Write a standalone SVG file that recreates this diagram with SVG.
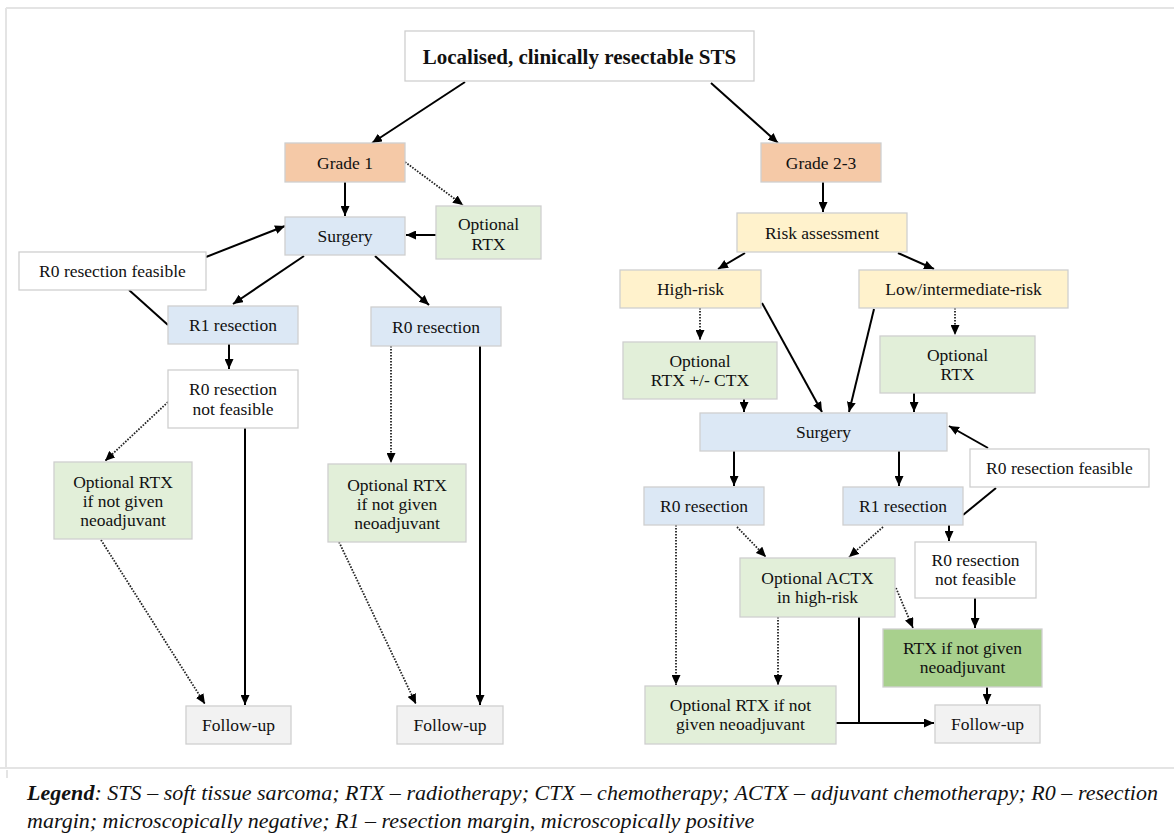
<svg xmlns="http://www.w3.org/2000/svg" width="1174" height="837" viewBox="0 0 1174 837">
  <style>
    .box { stroke: #cfcfcf; stroke-width: 1.3; }
    .white { fill: #ffffff; }
    .peach { fill: #f5c9a7; }
    .blue { fill: #dce8f5; }
    .green { fill: #e2efd9; }
    .dgreen { fill: #a8d08d; }
    .yellow { fill: #fff2cc; }
    .grey { fill: #f2f2f2; }
    text { font-family: "Liberation Serif", Tinos, "Times New Roman", "DejaVu Serif", serif; font-size: 17.5px; fill: #111; text-anchor: middle; }
    .title { font-size: 21px; font-weight: bold; }
    .legend { font-size: 22px; font-style: italic; text-anchor: start; }
    .solid { stroke: #000; stroke-width: 2; fill: none; }
    .dot { stroke: #222; stroke-width: 1.8; fill: none; stroke-dasharray: 1.6 1.4; }
    .frame { stroke: #e4e4e4; stroke-width: 2; fill: none; }
  </style>
  <defs>
    <marker id="arr" markerUnits="userSpaceOnUse" markerWidth="11" markerHeight="9" refX="10" refY="4.5" orient="auto">
      <path d="M0,0 L10,4.5 L0,9 z" fill="#000"/>
    </marker>
  </defs>

  <rect width="1174" height="837" fill="#ffffff"/>

  <!-- table frame -->
  <g id="frame">
    <path class="frame" d="M6,8 H1174 M6,8 V767 M0,768 H1174 M7,770 V778"/>
  </g>

  <!-- connectors -->
  <g id="connectors">
    <!-- left branch: grade 1 -->
    <line class="solid" x1="465" y1="82" x2="372" y2="143" marker-end="url(#arr)"/>
    <line class="solid" x1="345" y1="182" x2="345" y2="216" marker-end="url(#arr)"/>
    <line class="dot" x1="405" y1="162" x2="463" y2="205" marker-end="url(#arr)"/>
    <line class="solid" x1="436" y1="235" x2="406" y2="235" marker-end="url(#arr)"/>
    <line class="solid" x1="206" y1="257" x2="285" y2="226" marker-end="url(#arr)"/>
    <line class="solid" x1="304" y1="256" x2="233" y2="304" marker-end="url(#arr)"/>
    <line class="solid" x1="375" y1="256" x2="429" y2="305" marker-end="url(#arr)"/>
    <line class="solid" x1="129" y1="290" x2="168" y2="325"/>
    <line class="solid" x1="229" y1="344" x2="229" y2="369" marker-end="url(#arr)"/>
    <line class="dot" x1="168" y1="402" x2="105" y2="461" marker-end="url(#arr)"/>
    <line class="solid" x1="245" y1="428" x2="245" y2="705" marker-end="url(#arr)"/>
    <line class="dot" x1="391" y1="346" x2="391" y2="463" marker-end="url(#arr)"/>
    <line class="solid" x1="480" y1="346" x2="480" y2="705" marker-end="url(#arr)"/>
    <line class="dot" x1="101" y1="540" x2="205" y2="704" marker-end="url(#arr)"/>
    <line class="dot" x1="339" y1="542" x2="416" y2="704" marker-end="url(#arr)"/>

    <!-- right branch: grade 2-3 -->
    <line class="solid" x1="711" y1="83" x2="778" y2="143" marker-end="url(#arr)"/>
    <line class="solid" x1="823" y1="182" x2="823" y2="212" marker-end="url(#arr)"/>
    <line class="solid" x1="745" y1="253" x2="718" y2="269" marker-end="url(#arr)"/>
    <line class="solid" x1="898" y1="253" x2="934" y2="269" marker-end="url(#arr)"/>
    <line class="dot" x1="700" y1="308" x2="700" y2="340" marker-end="url(#arr)"/>
    <line class="solid" x1="762" y1="303" x2="822" y2="412" marker-end="url(#arr)"/>
    <line class="solid" x1="874" y1="309" x2="849" y2="412" marker-end="url(#arr)"/>
    <line class="dot" x1="955" y1="308" x2="955" y2="335" marker-end="url(#arr)"/>
    <line class="solid" x1="744" y1="399" x2="744" y2="412" marker-end="url(#arr)"/>
    <line class="solid" x1="914" y1="393" x2="914" y2="412" marker-end="url(#arr)"/>
    <line class="solid" x1="988" y1="448" x2="949" y2="426" marker-end="url(#arr)"/>
    <line class="solid" x1="734" y1="451" x2="734" y2="486" marker-end="url(#arr)"/>
    <line class="solid" x1="899" y1="451" x2="899" y2="486" marker-end="url(#arr)"/>
    <line class="solid" x1="996" y1="488" x2="963" y2="515"/>
    <line class="solid" x1="949" y1="525" x2="949" y2="541" marker-end="url(#arr)"/>
    <line class="dot" x1="737" y1="527" x2="766" y2="557" marker-end="url(#arr)"/>
    <line class="dot" x1="883" y1="527" x2="849" y2="557" marker-end="url(#arr)"/>
    <line class="dot" x1="676" y1="525" x2="676" y2="685" marker-end="url(#arr)"/>
    <line class="dot" x1="778" y1="617" x2="778" y2="685" marker-end="url(#arr)"/>
    <line class="dot" x1="896" y1="588" x2="913" y2="628" marker-end="url(#arr)"/>
    <line class="solid" x1="975" y1="598" x2="975" y2="628" marker-end="url(#arr)"/>
    <line class="solid" x1="987" y1="687" x2="987" y2="704" marker-end="url(#arr)"/>
    <line class="solid" x1="859" y1="617" x2="859" y2="723"/>
    <line class="solid" x1="836" y1="723" x2="934" y2="723" marker-end="url(#arr)"/>
  </g>

  <!-- nodes -->
  <g id="n-start"><rect class="box white" x="405" y="31" width="349" height="50"/><text class="title" x="579.5" y="64">Localised, clinically resectable STS</text></g>

  <g id="n-grade1"><rect class="box peach" x="285" y="143" width="120" height="39"/><text x="345" y="168.5">Grade 1</text></g>
  <g id="n-surgery-l"><rect class="box blue" x="285" y="217" width="120" height="38"/><text x="345" y="242">Surgery</text></g>
  <g id="n-optrtx-l"><rect class="box green" x="436" y="206" width="105" height="53"/><text x="488.5" y="230">Optional</text><text x="488.5" y="249.5">RTX</text></g>
  <g id="n-r0feas-l"><rect class="box white" x="19" y="252" width="187" height="38"/><text x="112.5" y="277">R0 resection feasible</text></g>
  <g id="n-r1-l"><rect class="box blue" x="168" y="306" width="130" height="38"/><text x="233" y="331">R1 resection</text></g>
  <g id="n-r0-l"><rect class="box blue" x="371" y="307" width="130" height="39"/><text x="436" y="332.5">R0 resection</text></g>
  <g id="n-r0notfeas-l"><rect class="box white" x="168" y="370" width="130" height="58"/><text x="233" y="395">R0 resection</text><text x="233" y="414.5">not feasible</text></g>
  <g id="n-optrtx-neo-1"><rect class="box green" x="54" y="462" width="138" height="77"/><text x="123" y="487.5">Optional RTX</text><text x="123" y="506.5">if not given</text><text x="123" y="525.5">neoadjuvant</text></g>
  <g id="n-optrtx-neo-2"><rect class="box green" x="328" y="464" width="138" height="78"/><text x="397" y="490.5">Optional RTX</text><text x="397" y="509.5">if not given</text><text x="397" y="528.5">neoadjuvant</text></g>
  <g id="n-followup-1"><rect class="box grey" x="186" y="706" width="105" height="38"/><text x="238.5" y="731">Follow-up</text></g>
  <g id="n-followup-2"><rect class="box grey" x="397" y="706" width="106" height="38"/><text x="450" y="731">Follow-up</text></g>

  <g id="n-grade23"><rect class="box peach" x="761" y="143" width="120" height="39"/><text x="821" y="168.5">Grade 2-3</text></g>
  <g id="n-risk"><rect class="box yellow" x="737" y="213" width="170" height="39"/><text x="822" y="239">Risk assessment</text></g>
  <g id="n-high"><rect class="box yellow" x="620" y="270" width="141" height="38"/><text x="690.5" y="295">High-risk</text></g>
  <g id="n-low"><rect class="box yellow" x="859" y="270" width="209" height="38"/><text x="963.5" y="295">Low/intermediate-risk</text></g>
  <g id="n-optrtxctx"><rect class="box green" x="623" y="342" width="154" height="57"/><text x="700" y="367">Optional</text><text x="700" y="386">RTX +/- CTX</text></g>
  <g id="n-optrtx-r"><rect class="box green" x="880" y="336" width="155" height="57"/><text x="957.5" y="361">Optional</text><text x="957.5" y="380">RTX</text></g>
  <g id="n-surgery-r"><rect class="box blue" x="700" y="413" width="247" height="38"/><text x="823.5" y="438">Surgery</text></g>
  <g id="n-r0feas-r"><rect class="box white" x="970" y="449" width="179" height="38"/><text x="1059.5" y="474">R0 resection feasible</text></g>
  <g id="n-r0-r"><rect class="box blue" x="644" y="487" width="120" height="38"/><text x="704" y="512">R0 resection</text></g>
  <g id="n-r1-r"><rect class="box blue" x="843" y="487" width="120" height="38"/><text x="903" y="512">R1 resection</text></g>
  <g id="n-r0notfeas-r"><rect class="box white" x="915" y="542" width="121" height="56"/><text x="975.5" y="566">R0 resection</text><text x="975.5" y="585">not feasible</text></g>
  <g id="n-actx"><rect class="box green" x="740" y="558" width="155" height="59"/><text x="817.5" y="584">Optional ACTX</text><text x="817.5" y="603">in high-risk</text></g>
  <g id="n-rtx-neo"><rect class="box dgreen" x="883" y="629" width="159" height="58"/><text x="962.5" y="654">RTX if not given</text><text x="962.5" y="673">neoadjuvant</text></g>
  <g id="n-optrtx-neo-3"><rect class="box green" x="645" y="686" width="191" height="58"/><text x="740.5" y="711">Optional RTX if not</text><text x="740.5" y="730">given neoadjuvant</text></g>
  <g id="n-followup-3"><rect class="box grey" x="935" y="705" width="105" height="38"/><text x="987.5" y="730">Follow-up</text></g>

  <!-- abbreviations -->
  <g id="legend">
    <text class="legend" x="27" y="800" textLength="1131" lengthAdjust="spacing"><tspan font-weight="bold">Legend</tspan>: STS – soft tissue sarcoma; RTX – radiotherapy; CTX – chemotherapy; ACTX – adjuvant chemotherapy; R0 – resection</text>
    <text class="legend" x="27" y="828">margin; microscopically negative; R1 – resection margin, microscopically positive</text>
  </g>
</svg>
